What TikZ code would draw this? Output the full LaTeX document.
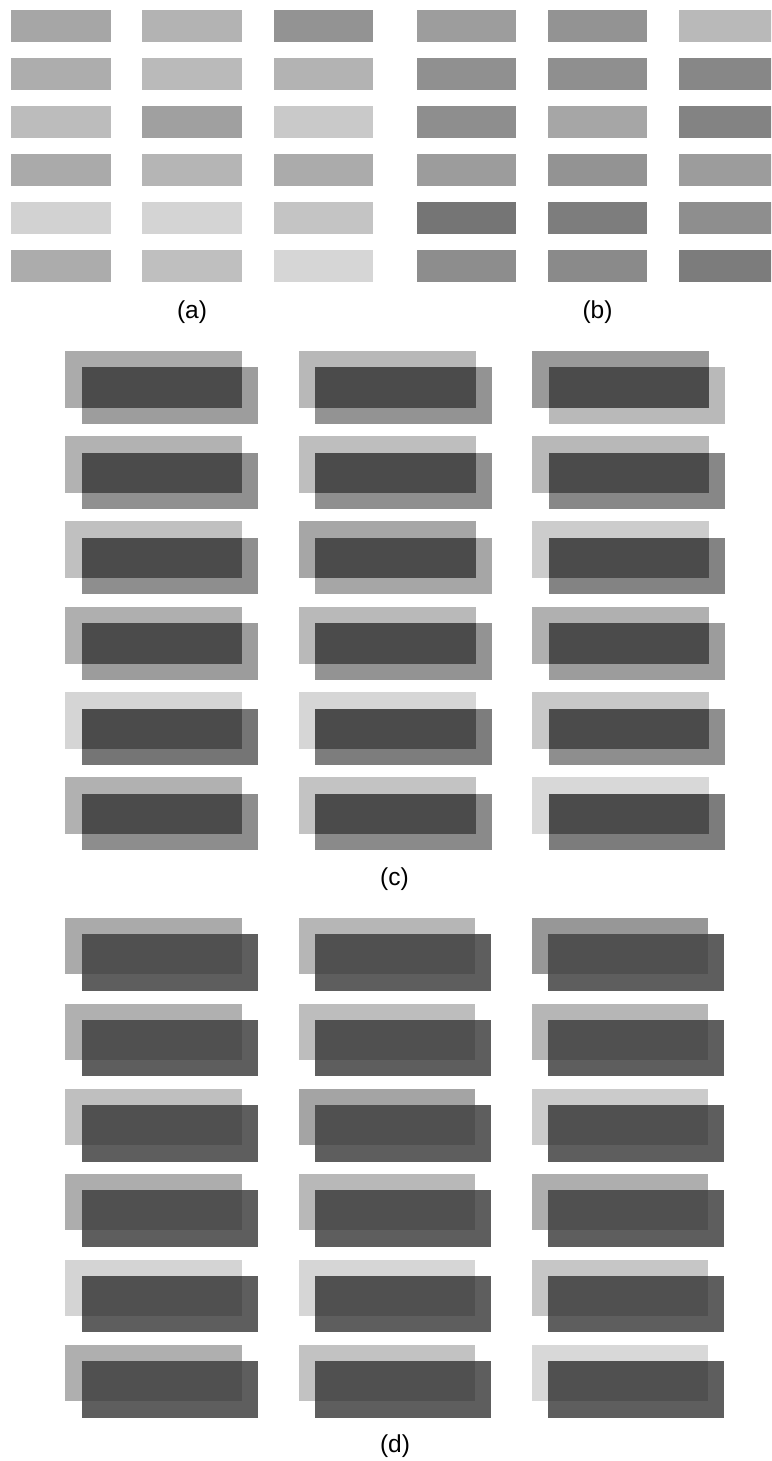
\documentclass[tikz,border=0pt]{standalone}
\usepackage{fontspec}
\setmainfont{Liberation Sans}
\definecolor{ovc}{HTML}{4B4B4B}
\definecolor{frd}{HTML}{5E5E5E}
\definecolor{ovd}{HTML}{505050}
\tikzset{
  lab/.style={font=\fontsize{24.5}{28}\selectfont, inner sep=0pt, text=black},
}
\newcommand\cellx[4]{%
  \definecolor{cola}{HTML}{#3#3#3}\definecolor{colb}{HTML}{#4#4#4}%
  % (a)
  \fill[cola] ({11+131.3*#2},{10+48*#1}) rectangle ++(99.5,32);
  % (b)
  \fill[colb] ({417+131*#2},{10+48*#1}) rectangle ++(99,32);
  % (c)
  \fill[cola!94!white] ({65.3+233.5*#2},{350.8+85.3*#1}) rectangle ++(176.7,57);
  \fill[colb] ({81.6+233.5*#2},{367.3+85.3*#1}) rectangle ++(176.5,56.5);
  \fill[ovc] ({81.6+233.5*#2},{367.3+85.3*#1}) rectangle ({242+233.5*#2},{407.8+85.3*#1});
  % (d)
  \fill[cola!96!white] ({65.3+233.2*#2},{918.3+85.3*#1}) rectangle ++(176.5,56);
  \fill[frd] ({81.6+233.0*#2},{934.3+85.3*#1}) rectangle ++(176.2,56.8);
  \fill[ovd] ({81.6+233.0*#2},{934.3+85.3*#1}) rectangle ({241.8+233.2*#2},{974.3+85.3*#1});
}
\begin{document}
\begin{tikzpicture}[x=1pt,y=-1pt]
\useasboundingbox (0,0) rectangle (771,1461);
\fill[white] (0,0) rectangle (771,1461);
\begin{scope}
\clip (0,0) rectangle (771,1461);
\cellx{0}{0}{A6}{9D}\cellx{0}{1}{B3}{93}\cellx{0}{2}{93}{B9}
\cellx{1}{0}{AD}{90}\cellx{1}{1}{BA}{8F}\cellx{1}{2}{B3}{87}
\cellx{2}{0}{BC}{8E}\cellx{2}{1}{A0}{A6}\cellx{2}{2}{C9}{83}
\cellx{3}{0}{AA}{9C}\cellx{3}{1}{B5}{93}\cellx{3}{2}{AB}{9C}
\cellx{4}{0}{D2}{75}\cellx{4}{1}{D4}{7D}\cellx{4}{2}{C4}{8E}
\cellx{5}{0}{AC}{8D}\cellx{5}{1}{BF}{8A}\cellx{5}{2}{D6}{7C}
\end{scope}
\node[lab] (la) at (192,312) {(a)};
\node[lab] (lb) at (597.5,312) {(b)};
\node[lab] (lc) at (394.5,879.5) {(c)};
\node[lab] (ld) at (395,1446) {(d)};
\end{tikzpicture}
\end{document}
